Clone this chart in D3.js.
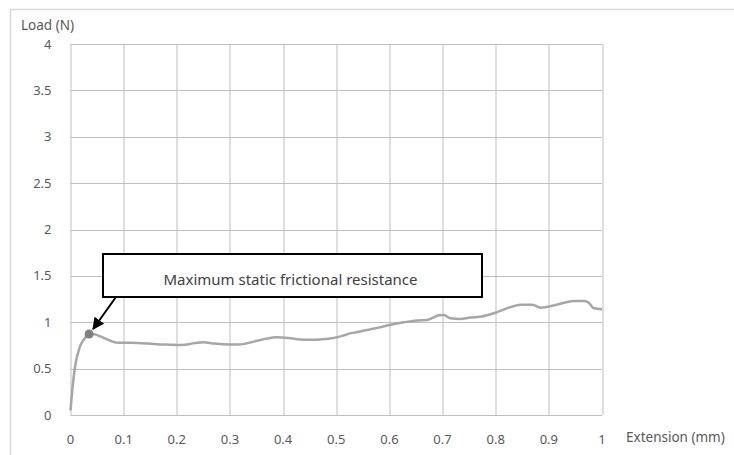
<!DOCTYPE html>
<html lang="en">
<head>
<meta charset="UTF-8">
<title>Load vs Extension</title>
<style>
  body { margin: 0; background: #fff; }
  text { font-family: "Noto Sans", "DejaVu Sans", sans-serif; fill: #595959; }
  .grid line { stroke: #bfbfbf; stroke-width: 1; }
  .curve { fill: none; stroke: #a6a6a6; stroke-width: 2.5px; stroke-linejoin: round; }
</style>
</head>
<body>
<svg width="734" height="455"></svg>
<script src="https://cdn.jsdelivr.net/npm/d3@7"></script>
<script>
// extension (mm) and load (N)
var extension = [0, 0.0034, 0.0085, 0.018, 0.026, 0.035, 0.045, 0.055, 0.071, 0.09, 0.115, 0.146, 0.178, 0.209, 0.234, 0.25, 0.27, 0.30, 0.315, 0.33, 0.351, 0.37, 0.388, 0.41, 0.432, 0.451, 0.47, 0.495, 0.51, 0.526, 0.545, 0.564, 0.582, 0.6, 0.627, 0.652, 0.671, 0.693, 0.702, 0.715, 0.733, 0.752, 0.771, 0.798, 0.821, 0.847, 0.869, 0.884, 0.899, 0.922, 0.947, 0.966, 0.975, 0.985, 1.0];
var load = [0.05, 0.27, 0.52, 0.74, 0.82, 0.873, 0.87, 0.85, 0.81, 0.78, 0.78, 0.77, 0.76, 0.755, 0.775, 0.785, 0.77, 0.76, 0.76, 0.77, 0.80, 0.825, 0.837, 0.83, 0.815, 0.81, 0.815, 0.83, 0.85, 0.88, 0.90, 0.923, 0.945, 0.97, 0.999, 1.02, 1.024, 1.075, 1.078, 1.042, 1.035, 1.05, 1.06, 1.10, 1.15, 1.19, 1.19, 1.157, 1.167, 1.20, 1.228, 1.228, 1.21, 1.15, 1.14];
var xTicks = [0, 0.1, 0.2, 0.3, 0.4, 0.5, 0.6, 0.7, 0.8, 0.9, 1];
var yTicks = [0, 0.5, 1, 1.5, 2, 2.5, 3, 3.5, 4];
var peak = {x: 0.035, y: 0.873};
var noteText = "Maximum static frictional resistance";

var svg = d3.select("svg"),
    margin = {top: 44, right: 132, bottom: 40, left: 70.5},
    width = +svg.attr("width") - margin.left - margin.right,
    height = +svg.attr("height") - margin.top - margin.bottom;

var x = d3.scaleLinear().domain([0, 1]).range([0, width]),
    y = d3.scaleLinear().domain([0, 4]).range([height, 0]);

// outer chart frame (only left and top edges show)
svg.append("path")
    .attr("d", "M10.5,455 V9.5 H734")
    .attr("fill", "none")
    .attr("stroke", "#d9d9d9")
    .attr("stroke-width", 1.5);

var g = svg.append("g")
    .attr("transform", "translate(" + margin.left + "," + margin.top + ")");

var grid = g.append("g").attr("class", "grid");
grid.selectAll(".gx").data(xTicks).enter().append("line")
    .attr("x1", d => Math.round(x(d)) + 0.5).attr("x2", d => Math.round(x(d)) + 0.5)
    .attr("y1", 0).attr("y2", height);
grid.selectAll(".gy").data(yTicks).enter().append("line")
    .attr("x1", 0).attr("x2", width)
    .attr("y1", d => Math.round(y(d)) + 0.5).attr("y2", d => Math.round(y(d)) + 0.5);

g.selectAll(".xl").data(xTicks).enter().append("text")
    .attr("x", d => x(d)).attr("y", height + 29)
    .attr("text-anchor", "middle")
    .style("font-size", "13px")
    .text(d => d);

g.selectAll(".yl").data(yTicks).enter().append("text")
    .attr("x", -19).attr("y", d => y(d) + 4.5)
    .attr("text-anchor", "end")
    .style("font-size", "13px")
    .text(d => d);

svg.append("text").attr("x", 21).attr("y", 30)
    .style("font-size", "13.5px").text("Load (N)");
svg.append("text").attr("x", 626).attr("y", 442)
    .style("font-size", "13.5px").text("Extension (mm)");

var data = extension.map((e, i) => ({x: e, y: load[i]}));

var line = d3.line()
    .x(d => x(d.x))
    .y(d => y(d.y))
    .curve(d3.curveMonotoneX);

g.append("path").datum(data)
    .attr("class", "curve")
    .attr("d", line);

g.append("circle")
    .attr("cx", x(peak.x)).attr("cy", y(peak.y))
    .attr("r", 4.5)
    .attr("fill", "#7f7f7f");

// annotation box + arrow
svg.append("defs").append("marker")
    .attr("id", "arrow")
    .attr("viewBox", "0 0 10 10")
    .attr("refX", 9).attr("refY", 5)
    .attr("markerWidth", 6).attr("markerHeight", 6)
    .attr("orient", "auto")
    .append("path").attr("d", "M0,0 L10,5 L0,10 z").attr("fill", "#000");

var box = {x: 103, y: 254, w: 379, h: 43};

g.append("line")
    .attr("x1", box.x + 13 - margin.left).attr("y1", box.y + box.h - margin.top)
    .attr("x2", x(peak.x) + 4).attr("y2", y(peak.y) - 5)
    .attr("stroke", "#000").attr("stroke-width", 2)
    .attr("marker-end", "url(#arrow)");

svg.append("rect")
    .attr("x", box.x).attr("y", box.y)
    .attr("width", box.w).attr("height", box.h)
    .attr("fill", "#fff").attr("stroke", "#000").attr("stroke-width", 2);

svg.append("text")
    .attr("x", box.x + box.w / 2 - 2).attr("y", box.y + 31)
    .attr("text-anchor", "middle")
    .style("font-size", "15px")
    .style("fill", "#404040")
    .text(noteText);
</script>
</body>
</html>
